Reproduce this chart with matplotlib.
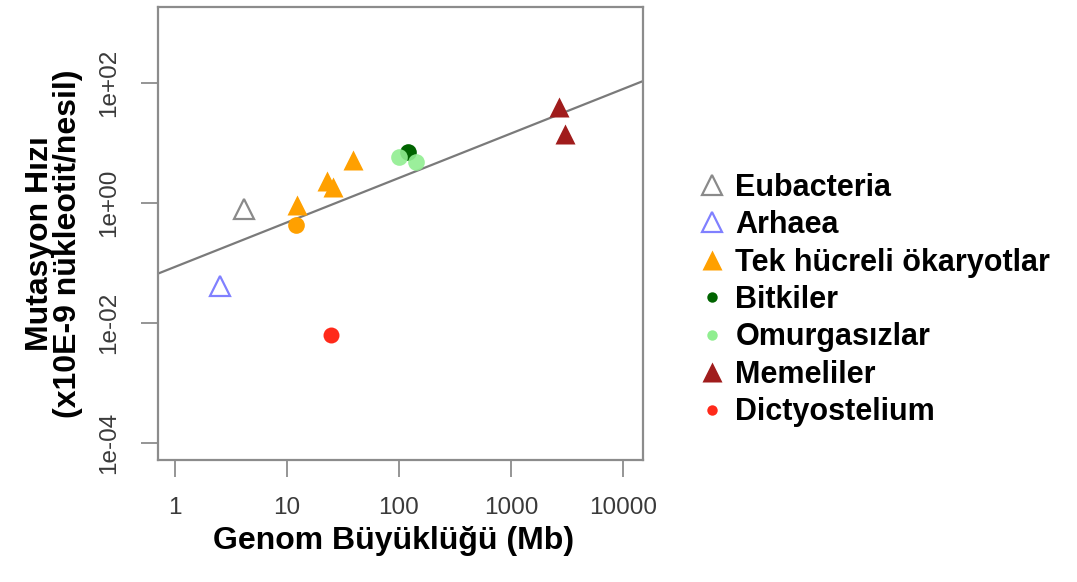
import numpy as np
import matplotlib
matplotlib.use("Agg")
import matplotlib.pyplot as plt
from matplotlib.lines import Line2D

plt.rcParams['font.family'] = ['Liberation Sans', 'DejaVu Sans']

# ---- data (genome size Mb, mutation rate x10E-9 per nucleotide per generation)
eub_x = [4.1]
eub_y = [0.79]
arc_x = [2.52]
arc_y = [0.041]
uni_tri_x = [12.3, 22.8, 25.7, 38.8]
uni_tri_y = [0.93, 2.33, 1.85, 5.2]
uni_circ_x = [12.0]
uni_circ_y = [0.43]
plant_x = [120]
plant_y = [7.1]
invert_x = [100, 142]
invert_y = [5.85, 4.82]
mammal_x = [2683, 3036]
mammal_y = [40.6, 14.1]
dicty_x = [24.7]
dicty_y = [0.0063]
fit_slope = 0.741
fit_intercept = -1.064

xticks = [1, 10, 100, 1000, 10000]
xtick_labels = ['1', '10', '100', '1000', '10000']
yticks = [1e-4, 1e-2, 1e0, 1e2]
ytick_labels = ['1e-04', '1e-02', '1e+00', '1e+02']

legend_labels = ['Eubacteria', 'Arhaea', 'Tek hücreli ökaryotlar', 'Bitkiler',
                 'Omurgasızlar', 'Memeliler', 'Dictyostelium']

c_eub = '#8a8a8a'
c_arc = '#8080ff'
c_uni = '#ffa000'
c_plant = '#006400'
c_inv = '#90ee90'
c_mam = '#a01c1c'
c_dic = '#ff2a1a'
frame_c = '#8c8c8c'

W, H = 1077, 582
fig = plt.figure(figsize=(W / 100, H / 100), dpi=100)
ax = fig.add_axes([158 / W, 1 - 460 / H, (643 - 158) / W, (460 - 7) / H])
ax.set_xscale('log')
ax.set_yscale('log')
ax.set_xlim(10 ** -0.152, 10 ** 4.179)
ax.set_ylim(10 ** -4.283, 10 ** 3.267)

# regression line
xl = np.array(ax.get_xlim())
ax.plot(xl, 10 ** (fit_intercept + fit_slope * np.log10(xl)), color='#7a7a7a', lw=1.6, zorder=1)

ms_tri = 15
ms_circ = 12
ax.plot(eub_x, eub_y, '^', ms=ms_tri, mfc='none', mec=c_eub, mew=1.6, ls='none', zorder=3)
ax.plot(arc_x, arc_y, '^', ms=ms_tri, mfc='none', mec=c_arc, mew=1.6, ls='none', zorder=3)
ax.plot(uni_tri_x, uni_tri_y, '^', ms=ms_tri, color=c_uni, mec='none', ls='none', zorder=3)
ax.plot(uni_circ_x, uni_circ_y, 'o', ms=ms_circ, color=c_uni, mec='none', ls='none', zorder=3)
ax.plot(plant_x, plant_y, 'o', ms=ms_circ, color=c_plant, mec='none', ls='none', zorder=3)
ax.plot(invert_x, invert_y, 'o', ms=ms_circ, color=c_inv, mec='none', alpha=0.9, ls='none', zorder=4)
ax.plot(mammal_x, mammal_y, '^', ms=ms_tri, color=c_mam, mec='none', ls='none', zorder=3)
ax.plot(dicty_x, dicty_y, 'o', ms=11.5, color=c_dic, mec='none', ls='none', zorder=3)

ax.minorticks_off()
ax.set_xticks(xticks)
ax.set_xticklabels(xtick_labels)
ax.set_yticks(yticks)
ax.set_yticklabels(ytick_labels, rotation=90, va='center')
ax.tick_params(axis='both', length=12, width=1.3, color=frame_c, labelcolor='#3a3a3a',
               labelsize=17.5, pad=15)
for sp in ax.spines.values():
    sp.set_color(frame_c)
    sp.set_linewidth(1.6)

ax.set_xlabel('Genom Büyüklüğü (Mb)', fontsize=23, fontweight='bold', va='center')
ax.xaxis.set_label_coords((394 - 158) / 485, (460 - 541) / 453)
ax.set_ylabel('Mutasyon Hızı\n(x10E-9 nükleotit/nesil)', fontsize=23, fontweight='bold',
              va='center', ha='center', linespacing=0.95)
ax.yaxis.set_label_coords((54 - 158) / 485, (460 - 244) / 453)

handles = [
    Line2D([], [], marker='^', ls='none', ms=14, mfc='none', mec=c_eub, mew=1.6),
    Line2D([], [], marker='^', ls='none', ms=14, mfc='none', mec=c_arc, mew=1.6),
    Line2D([], [], marker='^', ls='none', ms=14, color=c_uni, mec='none'),
    Line2D([], [], marker='o', ls='none', ms=7.5, color=c_plant, mec='none'),
    Line2D([], [], marker='o', ls='none', ms=7.5, color=c_inv, mec='none'),
    Line2D([], [], marker='^', ls='none', ms=14, color=c_mam, mec='none'),
    Line2D([], [], marker='o', ls='none', ms=7.5, color=c_dic, mec='none'),
]
fig.legend(handles, legend_labels, loc='center left', bbox_to_anchor=(700 / W, 1 - 300 / H),
           frameon=False, prop={'size': 22, 'weight': 'bold'}, handlelength=0.78,
           handletextpad=0.38, labelspacing=0.245, borderpad=0, borderaxespad=0)

fig.savefig('out.png', dpi=100)
